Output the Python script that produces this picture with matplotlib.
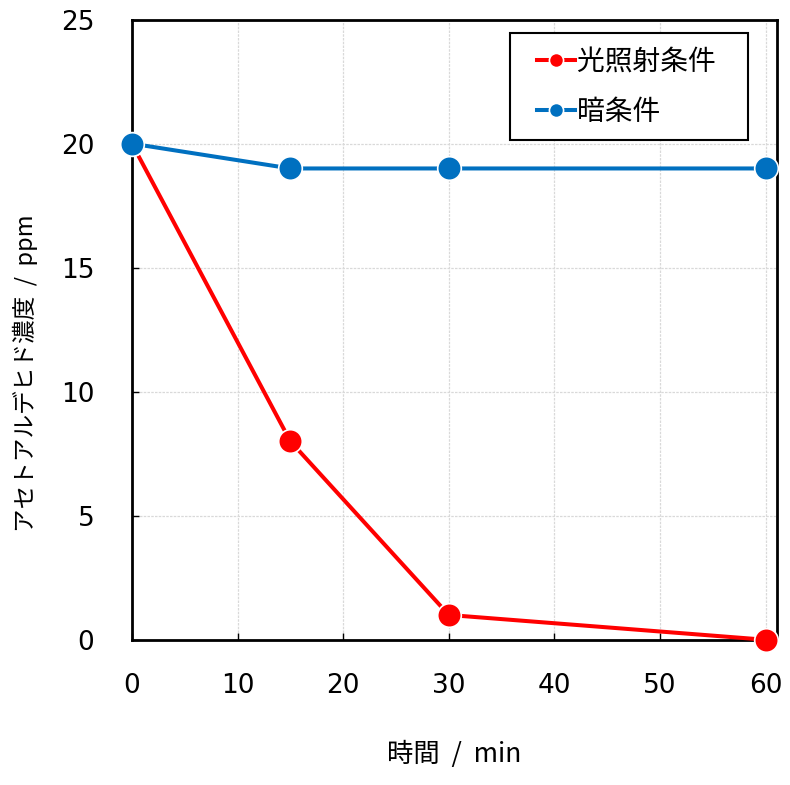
import matplotlib
matplotlib.use("Agg")
import matplotlib.pyplot as plt
from matplotlib.legend_handler import HandlerLine2D

plt.rcParams['font.family'] = ['DejaVu Sans', 'Noto Sans CJK JP']

# data
time_min = [0, 15, 30, 60]
light = [20, 8, 1, 0]
dark = [20, 19, 19, 19]
labels = ['光照射条件', '暗条件']

fig = plt.figure(figsize=(7.9, 7.85), dpi=100)
ax = fig.add_axes([0.167, 0.185, 0.817, 0.79])

l1, = ax.plot(time_min, light, color='#ff0000', lw=2.9, marker='o', ms=17,
              mfc='#ff0000', mec='white', mew=1.2, clip_on=False, zorder=3)
l2, = ax.plot(time_min, dark, color='#0070c0', lw=2.9, marker='o', ms=17,
              mfc='#0070c0', mec='white', mew=1.2, clip_on=False, zorder=3)

ax.set_xlim(0, 61.1)
ax.set_ylim(0, 25)
ax.set_xticks(range(0, 61, 10))
ax.set_yticks(range(0, 26, 5))
ax.grid(True, color='#d9d9d9', lw=0.9, ls=(0, (2, 1)))
ax.set_axisbelow(True)
for s in ax.spines.values():
    s.set_linewidth(2)
ax.tick_params(direction='in', length=5, width=1, labelsize=19)
ax.tick_params(axis='x', pad=24)
ax.tick_params(axis='y', pad=27)

jp = ['Noto Sans CJK JP', 'DejaVu Sans']
ax.set_xlabel('時間  /  min', fontsize=19, family=jp, labelpad=30)
ax.set_ylabel('アセトアルデヒド濃度  /  ppm', fontsize=17, family=jp)
ax.yaxis.set_label_coords(-0.146, 0.43)

# legend: handle shifted right inside the box like the original
hl = {l1: HandlerLine2D(xpad=0.47), l2: HandlerLine2D(xpad=0.47)}
leg = ax.legend([l1, l2], [t + '   ' for t in labels], loc='upper right',
                bbox_to_anchor=(0.955, 0.978),
                prop={'family': jp, 'size': 20}, fancybox=False, edgecolor='black',
                framealpha=1, markerscale=0.6, handlelength=1.83, borderpad=0.5,
                labelspacing=0.7, handletextpad=0.07, borderaxespad=0,
                handler_map=hl)
leg.get_frame().set_linewidth(1.5)

fig.savefig('out.png', dpi=100)
